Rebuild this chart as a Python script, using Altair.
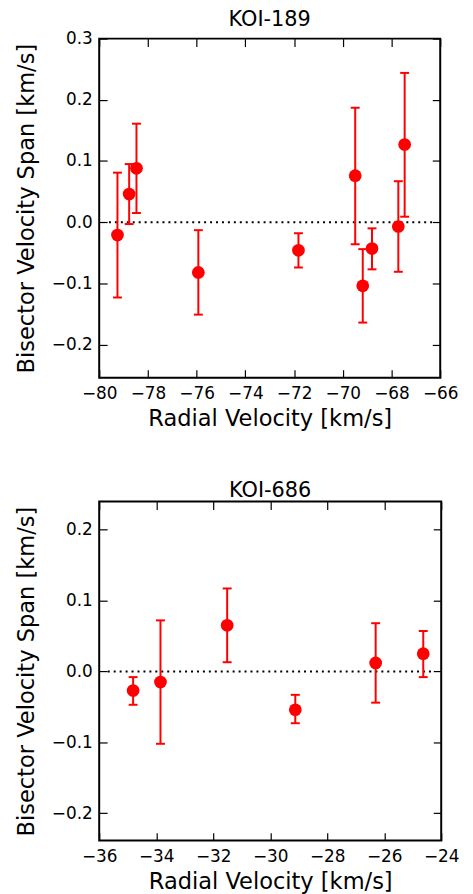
import altair as alt
import pandas as pd

# KOI-189
x_top = [-79.25, -78.77, -78.47, -75.93, -71.82, -69.49, -69.18, -68.80, -67.72, -67.46]
y_top = [-0.021, 0.046, 0.088, -0.082, -0.046, 0.076, -0.104, -0.043, -0.007, 0.127]
hi_top = [0.081, 0.095, 0.161, -0.013, -0.018, 0.187, -0.044, -0.010, 0.067, 0.244]
lo_top = [-0.123, -0.003, 0.015, -0.151, -0.074, -0.036, -0.164, -0.077, -0.081, 0.009]
xticks_top = [-80, -78, -76, -74, -72, -70, -68, -66]
yticks_top = [-0.2, -0.1, 0.0, 0.1, 0.2, 0.3]
xdom_top = [-80, -66]
ydom_top = [-0.254, 0.3]
zero_top = [-79.6, -66.3]

# KOI-686
x_bot = [-34.81, -33.85, -31.51, -29.12, -26.30, -24.63]
y_bot = [-0.027, -0.015, 0.065, -0.054, 0.012, 0.025]
hi_bot = [-0.008, 0.072, 0.117, -0.033, 0.068, 0.057]
lo_bot = [-0.047, -0.102, 0.013, -0.073, -0.044, -0.008]
xticks_bot = [-36, -34, -32, -30, -28, -26, -24]
yticks_bot = [-0.2, -0.1, 0.0, 0.1, 0.2]
xdom_bot = [-36, -24]
ydom_bot = [-0.2385, 0.2395]
zero_bot = [-35.7, -24.35]

FONT = "DejaVu Sans"
TICK = 8


def tick_axis(orient, values):
    return alt.Axis(orient=orient, values=values, offset=-TICK, tickSize=TICK,
                    domain=False, labels=False, grid=False, title=None,
                    tickColor="black", tickWidth=1.2, minExtent=0, maxExtent=0)


def panel(title, xs, ys, lo, hi, xdom, xticks, ydom, yticks, zx, w, h):
    df = pd.DataFrame({"rv": xs, "bvs": ys, "lo": lo, "hi": hi})
    sx = alt.Scale(domain=xdom, nice=False, zero=False)
    sy = alt.Scale(domain=ydom, nice=False, zero=False)
    base = alt.Chart(df)

    lab_x = alt.Axis(orient="bottom", values=xticks, format="d", tickSize=0,
                     domain=False, grid=False, labelFont=FONT, labelFontSize=17,
                     labelColor="black", labelPadding=8, labelOverlap=False,
                     labelFlush=False,
                     title="Radial Velocity [km/s]", titleFont=FONT,
                     titleFontSize=22.7, titleFontWeight="normal",
                     titleColor="black", titlePadding=6)
    lab_y = alt.Axis(orient="left", values=yticks, format=".1f", tickSize=0,
                     domain=False, grid=False, labelFont=FONT, labelFontSize=17,
                     labelColor="black", labelPadding=7, labelOverlap=False,
                     labelFlush=False,
                     title="Bisector Velocity Span [km/s]", titleFont=FONT,
                     titleFontSize=22.7, titleFontWeight="normal",
                     titleColor="black", titlePadding=13)

    zdf = pd.DataFrame({"x0": [zx[0]], "x1": [zx[1]], "y0": [0.0]})
    zero = alt.Chart(zdf).mark_rule(color="black", strokeDash=[2, 4],
                                    strokeWidth=2).encode(
        x=alt.X("x0:Q", scale=sx, axis=None),
        x2="x1:Q",
        y=alt.Y("y0:Q", scale=sy, axis=None),
    )
    rules = base.mark_rule(color="red", strokeWidth=2).encode(
        x=alt.X("rv:Q", scale=sx, axis=tick_axis("bottom", xticks)),
        y=alt.Y("lo:Q", scale=sy, axis=tick_axis("left", yticks)),
        y2="hi:Q",
    )
    caps = base.transform_fold(["lo", "hi"], as_=["k", "v"]).mark_tick(
        color="red", orient="horizontal", size=9, thickness=2, opacity=1
    ).encode(
        x=alt.X("rv:Q", scale=sx, axis=tick_axis("top", xticks)),
        y=alt.Y("v:Q", scale=sy, axis=tick_axis("right", yticks)),
    )
    points = base.mark_circle(color="red", size=165, opacity=1).encode(
        x=alt.X("rv:Q", scale=sx, axis=lab_x),
        y=alt.Y("bvs:Q", scale=sy, axis=lab_y),
    )
    return alt.layer(zero, rules, caps, points).resolve_axis(
        x="independent", y="independent"
    ).properties(
        width=w, height=h,
        title=alt.TitleParams(title, font=FONT, fontSize=21,
                              fontWeight="normal", color="black", offset=0),
    )


top = panel("KOI-189", x_top, y_top, lo_top, hi_top, xdom_top, xticks_top,
            ydom_top, yticks_top, zero_top, 344, 342)
bot = panel("KOI-686", x_bot, y_bot, lo_bot, hi_bot, xdom_bot, xticks_bot,
            ydom_bot, yticks_bot, zero_bot, 345, 342)

chart = alt.vconcat(top, bot, spacing=48).configure_view(
    stroke="black", strokeWidth=2
).properties(padding={"left": 6, "top": -4, "right": 5, "bottom": 0})

chart.save("out.html", embed_options={"renderer": "svg", "actions": False})
